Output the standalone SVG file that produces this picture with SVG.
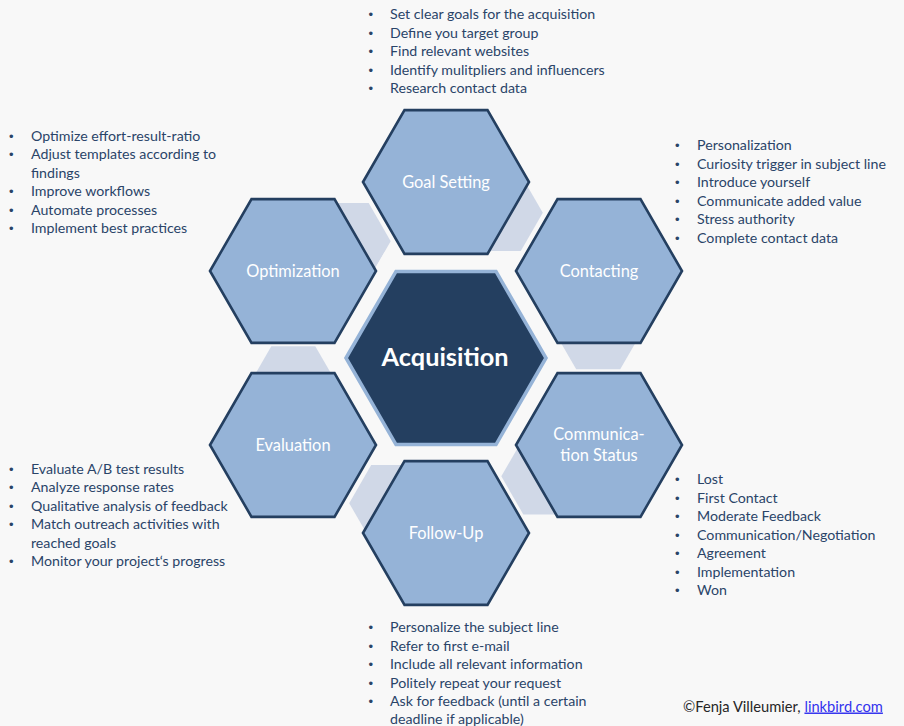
<svg xmlns="http://www.w3.org/2000/svg" xmlns:xlink="http://www.w3.org/1999/xlink" width="904" height="726" viewBox="0 0 904 726">
<style>
.bg{fill:#F8F8F8}
.conn{fill:#D0D8E7}
.halo{fill:#F8F8F8}
.outer{fill:#95B3D7;stroke:#243F60;stroke-width:2.6;stroke-linejoin:miter}
.center{fill:#243F60;stroke:#95B3D7;stroke-width:3.5}
.lbl{font-family:Lato,"Open Sans",sans-serif;font-size:16.4px;fill:#FFFFFF;text-anchor:middle}
.big{font-family:Lato,"Open Sans",sans-serif;font-size:25.3px;font-weight:bold;fill:#FFFFFF;text-anchor:middle}
.lst{font-family:Lato,"Open Sans",sans-serif;font-size:14.2px;fill:#2A4468}
.blt{font-family:"Liberation Sans",Arial,sans-serif;font-size:13px;fill:#2A4468}
.copy{font-family:Lato,"Open Sans",sans-serif;font-size:14.7px;fill:#262626}
</style>
<defs>
<polygon id="hexO" points="-83,0 -41.5,-71.9 41.5,-71.9 83,0 41.5,71.9 -41.5,71.9"/>
<polygon id="hexC" points="-44,0 -22,-38.1 22,-38.1 44,0 22,38.1 -22,38.1"/>
</defs>
<rect class="bg" x="0" y="0" width="904" height="726"/>
<g id="connectors">
<use href="#hexC" class="conn" x="598.2" y="331.2"/>
<use href="#hexC" class="conn" x="498.8" y="212.8"/>
<use href="#hexC" class="conn" x="346.7" y="241.2"/>
<use href="#hexC" class="conn" x="293.3" y="384.3"/>
<use href="#hexC" class="conn" x="393.2" y="503.2"/>
<use href="#hexC" class="conn" x="545.3" y="476.3"/>
</g>
<polygon class="halo" points="323.5,358 384.75,251.9 507.25,251.9 568.5,358 507.25,464.1 384.75,464.1"/>
<g id="acquisition">
<polygon class="center" points="346,358 396,271.4 496,271.4 546,358 496,444.6 396,444.6"/>
<text class="big" x="445" y="366">Acquisition</text>
</g>
<g id="goal-setting">
<use href="#hexO" class="outer" x="446" y="182"/>
<text class="lbl" x="446" y="187.5">Goal Setting</text>
</g>
<g id="contacting">
<use href="#hexO" class="outer" x="599" y="271"/>
<text class="lbl" x="599" y="276.5">Contacting</text>
</g>
<g id="communication-status">
<use href="#hexO" class="outer" x="599" y="445"/>
<text class="lbl" x="599" y="440">Communica-</text>
<text class="lbl" x="599" y="460.5">tion Status</text>
</g>
<g id="follow-up">
<use href="#hexO" class="outer" x="446" y="533"/>
<text class="lbl" x="446" y="538.5">Follow-Up</text>
</g>
<g id="evaluation">
<use href="#hexO" class="outer" x="293" y="445"/>
<text class="lbl" x="293" y="450.5">Evaluation</text>
</g>
<g id="optimization">
<use href="#hexO" class="outer" x="293" y="271"/>
<text class="lbl" x="293" y="276.5">Optimization</text>
</g>
<g id="list-goal-setting">
<text class="blt" x="368.5" y="19">•</text><text class="lst" x="390" y="19">Set clear goals for the acquisition</text>
<text class="blt" x="368.5" y="37.5">•</text><text class="lst" x="390" y="37.5">Define you target group</text>
<text class="blt" x="368.5" y="56">•</text><text class="lst" x="390" y="56">Find relevant websites</text>
<text class="blt" x="368.5" y="74.5">•</text><text class="lst" x="390" y="74.5">Identify mulitpliers and influencers</text>
<text class="blt" x="368.5" y="93">•</text><text class="lst" x="390" y="93">Research contact data</text>
</g>
<g id="list-contacting">
<text class="blt" x="675" y="150">•</text><text class="lst" x="697" y="150">Personalization</text>
<text class="blt" x="675" y="168.5">•</text><text class="lst" x="697" y="168.5">Curiosity trigger in subject line</text>
<text class="blt" x="675" y="187">•</text><text class="lst" x="697" y="187">Introduce yourself</text>
<text class="blt" x="675" y="205.5">•</text><text class="lst" x="697" y="205.5">Communicate added value</text>
<text class="blt" x="675" y="224">•</text><text class="lst" x="697" y="224">Stress authority</text>
<text class="blt" x="675" y="242.5">•</text><text class="lst" x="697" y="242.5">Complete contact data</text>
</g>
<g id="list-optimization">
<text class="blt" x="9" y="140.5">•</text><text class="lst" x="31" y="140.5">Optimize effort-result-ratio</text>
<text class="blt" x="9" y="159">•</text><text class="lst" x="31" y="159">Adjust templates according to</text>
<text class="lst" x="31" y="177.5">findings</text>
<text class="blt" x="9" y="196">•</text><text class="lst" x="31" y="196">Improve workflows</text>
<text class="blt" x="9" y="214.5">•</text><text class="lst" x="31" y="214.5">Automate processes</text>
<text class="blt" x="9" y="233">•</text><text class="lst" x="31" y="233">Implement best practices</text>
</g>
<g id="list-evaluation">
<text class="blt" x="9" y="473.5">•</text><text class="lst" x="31" y="473.5">Evaluate A/B test results</text>
<text class="blt" x="9" y="492">•</text><text class="lst" x="31" y="492">Analyze response rates</text>
<text class="blt" x="9" y="510.5">•</text><text class="lst" x="31" y="510.5">Qualitative analysis of feedback</text>
<text class="blt" x="9" y="529">•</text><text class="lst" x="31" y="529">Match outreach activities with</text>
<text class="lst" x="31" y="547.5">reached goals</text>
<text class="blt" x="9" y="566">•</text><text class="lst" x="31" y="566">Monitor your project‘s progress</text>
</g>
<g id="list-communication-status">
<text class="blt" x="675" y="484">•</text><text class="lst" x="697" y="484">Lost</text>
<text class="blt" x="675" y="502.5">•</text><text class="lst" x="697" y="502.5">First Contact</text>
<text class="blt" x="675" y="521">•</text><text class="lst" x="697" y="521">Moderate Feedback</text>
<text class="blt" x="675" y="539.5">•</text><text class="lst" x="697" y="539.5">Communication/Negotiation</text>
<text class="blt" x="675" y="558">•</text><text class="lst" x="697" y="558">Agreement</text>
<text class="blt" x="675" y="576.5">•</text><text class="lst" x="697" y="576.5">Implementation</text>
<text class="blt" x="675" y="595">•</text><text class="lst" x="697" y="595">Won</text>
</g>
<g id="list-follow-up">
<text class="blt" x="368.5" y="632">•</text><text class="lst" x="390" y="632">Personalize the subject line</text>
<text class="blt" x="368.5" y="650.5">•</text><text class="lst" x="390" y="650.5">Refer to first e-mail</text>
<text class="blt" x="368.5" y="669">•</text><text class="lst" x="390" y="669">Include all relevant information</text>
<text class="blt" x="368.5" y="687.5">•</text><text class="lst" x="390" y="687.5">Politely repeat your request</text>
<text class="blt" x="368.5" y="706">•</text><text class="lst" x="390" y="706">Ask for feedback (until a certain</text>
<text class="lst" x="390" y="724">deadline if applicable)</text>
</g>
<g id="credit">
<text class="copy" x="683" y="711.5">©Fenja Villeumier, <tspan fill="#3333EE" text-decoration="underline">linkbird.com</tspan></text>
</g>
</svg>
